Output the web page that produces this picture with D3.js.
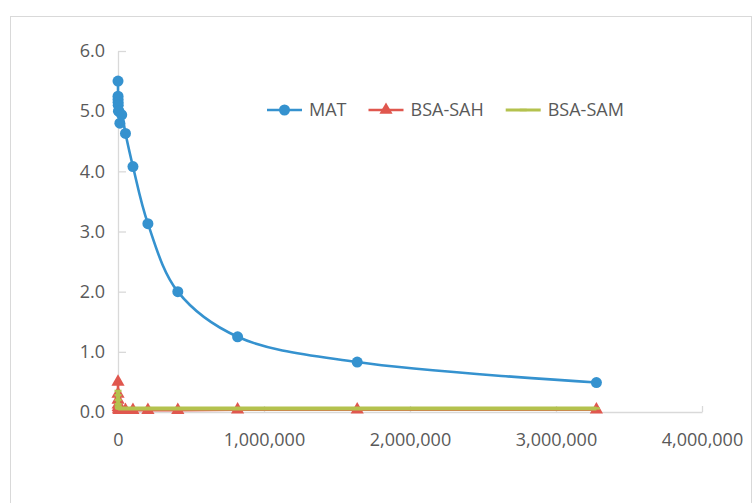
<!DOCTYPE html>
<html>
<head>
<meta charset="utf-8">
<script src="https://cdn.jsdelivr.net/npm/d3@7"></script>
<style>
  html, body { margin: 0; padding: 0; background: #fff; }
  svg { display: block; font-family: "Open Sans", "Noto Sans", sans-serif; }
</style>
</head>
<body>
<div id="chart"></div>
<script>
// Concentration (doublements) vs. valeurs mesurées, 3 séries

const xValues = [100, 200, 400, 800, 1600, 3200, 6400, 12800, 25600, 51200,
  102400, 204800, 409600, 819200, 1638400, 3276800];
const matValues = [5.5, 5.25, 5.2, 5.15, 5.1, 5.0, 5.0, 4.8, 4.94, 4.63,
  4.08, 3.13, 2.0, 1.25, 0.83, 0.49];
const sahValues = [0.5, 0.3, 0.2, 0.12, 0.08, 0.05, 0.03, 0.03, 0.03, 0.03,
  0.03, 0.03, 0.03, 0.04, 0.04, 0.04];
const samValues = [0.35, 0.28, 0.2, 0.13, 0.09, 0.07, 0.06, 0.06, 0.06, 0.06,
  0.06, 0.06, 0.06, 0.06, 0.06, 0.06];

const seriesNames = ["MAT", "BSA-SAH", "BSA-SAM"];
const seriesColors = ["#3592cf", "#e0574e", "#b4c24e"];

const yTicks = [0, 1, 2, 3, 4, 5, 6];
const xTicks = [0, 1000000, 2000000, 3000000, 4000000];

const W = 755, H = 503;
const FONT = 18;

const svg = d3.select("#chart").append("svg")
  .attr("width", W)
  .attr("height", H);

// cadre du graphique
svg.append("rect")
  .attr("x", 10.5).attr("y", 16.5)
  .attr("width", 741).attr("height", 500)
  .attr("fill", "#fff")
  .attr("stroke", "#d9d9d9");

// Echelles
const x = d3.scaleLinear().domain([0, 4000000]).range([118, 702]);
const y = d3.scaleLinear().domain([0, 6]).range([412, 51]);

// Axes
const gx = svg.append("g")
  .attr("transform", `translate(0,${y(0)})`)
  .call(d3.axisBottom(x)
    .tickValues(xTicks)
    .tickFormat(d3.format(","))
    .tickSizeInner(-6)
    .tickSizeOuter(0)
    .tickPadding(21));

const gy = svg.append("g")
  .attr("transform", `translate(${x(0)},0)`)
  .call(d3.axisLeft(y)
    .tickValues(yTicks)
    .tickFormat(d3.format(".1f"))
    .tickSizeInner(-8)
    .tickSizeOuter(0)
    .tickPadding(13));

[gx, gy].forEach(g => {
  g.select(".domain").attr("stroke", "#d9d9d9").attr("stroke-width", 1.3);
  g.selectAll(".tick line").attr("stroke", "#d9d9d9").attr("stroke-width", 1.3);
  g.selectAll(".tick text")
    .attr("fill", "#595959")
    .attr("font-size", FONT)
    .attr("font-family", "'Open Sans', 'Noto Sans', sans-serif");
});
gx.select(".tick:first-of-type line").remove();

// Séries
const series = [matValues, sahValues, samValues].map((vals, i) => ({
  name: seriesNames[i],
  color: seriesColors[i],
  points: xValues.map((xv, j) => ({ x: xv, y: vals[j] }))
}));

const line = d3.line()
  .x(d => x(d.x))
  .y(d => y(d.y))
  .curve(d3.curveCatmullRom.alpha(0.5));

const tri = d3.symbol().type(d3.symbolTriangle).size(75);

function drawMarker(g, kind, color) {
  if (kind === 0) {
    g.append("circle").attr("r", 5.5).attr("fill", color);
  } else if (kind === 1) {
    g.append("path").attr("d", tri()).attr("fill", color);
  } else {
    g.append("line")
      .attr("x1", -3.5).attr("x2", 3.5)
      .attr("stroke", color).attr("stroke-width", 2.5);
  }
}

const widths = [2.6, 2.6, 4];

series.forEach((s, i) => {
  const g = svg.append("g");
  g.append("path")
    .datum(s.points)
    .attr("fill", "none")
    .attr("stroke", s.color)
    .attr("stroke-width", widths[i])
    .attr("stroke-linejoin", "round")
    .attr("d", line);

  g.selectAll("g.mk")
    .data(s.points)
    .enter()
    .append("g")
    .attr("class", "mk")
    .attr("transform", d => `translate(${x(d.x)},${y(d.y)})`)
    .each(function () { drawMarker(d3.select(this), i, s.color); });
});

// Légende
const legend = svg.append("g").attr("transform", "translate(267,110)");
let lx = 0;
series.forEach((s, i) => {
  const item = legend.append("g").attr("transform", `translate(${lx},0)`);
  item.append("line")
    .attr("x1", 0).attr("x2", 35)
    .attr("stroke", s.color)
    .attr("stroke-width", widths[i] === 4 ? 3 : 2.6);
  const mk = item.append("g").attr("transform", "translate(17.5,0)");
  drawMarker(mk, i, s.color);
  const t = item.append("text")
    .attr("x", 42)
    .attr("dy", "0.35em")
    .attr("fill", "#595959")
    .attr("font-size", FONT)
    .text(s.name);
  lx += 42 + t.node().getComputedTextLength() + 22;
});
</script>
</body>
</html>
